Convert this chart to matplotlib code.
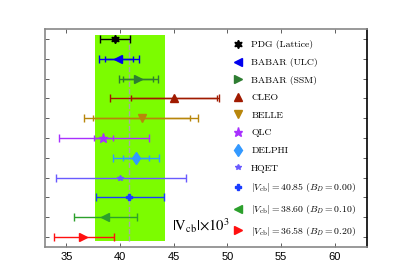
import matplotlib
matplotlib.use("Agg")
import matplotlib.pyplot as plt

labels = ["PDG (Lattice)", "BABAR (ULC)", "BABAR (SSM)", "CLEO", "BELLE", "QLC",
          "DELPHI", "HQET",
          r"$|V_{\rm cb}| = 40.85\ (B_D = 0.00)$",
          r"$|V_{\rm cb}| = 38.60\ (B_D = 0.10)$",
          r"$|V_{\rm cb}| = 36.58\ (B_D = 0.20)$"]
values = [39.5, 39.8, 41.7, 45.0, 42.0, 38.4, 41.5, 40.0, 40.85, 38.60, 36.58]
outer_lo = [38.1, 38.05, 39.85, 39.1, 36.6, 34.3, 39.3, 34.0, 37.75, 35.7, 33.85]
outer_hi = [40.9, 41.72, 43.5, 49.2, 47.3, 42.7, 43.6, 46.1, 44.05, 41.6, 39.45]
inner_lo = [None, 38.6, 40.3, 41.0, 37.5, 37.6, 40.25, None, None, None, None]
inner_hi = [None, 41.2, 43.1, 49.0, 46.5, 39.3, 42.65, None, None, None, None]
colors = ["black", "#0000ee", "#2e7d32", "#a01a00", "#b8860b", "#a830ff",
          "#3399ff", "#6a5aff", "#1a3cff", "#2ca02c", "#ff1010"]
markers = [(6, 1, 0), "<", ">", "^", "v", "*", "d", "*", "P", "<", ">"]
msizes = [6, 6, 6, 6, 6, 6.5, 6.5, 4, 5, 6, 6]
band = (37.7, 44.2)
central = 40.85
xticks = [35, 40, 45, 50, 55, 60]

plt.rcParams["mathtext.fontset"] = "cm"
plt.rcParams["axes.unicode_minus"] = False

fig = plt.figure(figsize=(4.15, 2.68), dpi=100)
ax = fig.add_axes([45/415, 1-247/268, (367-45)/415, (247-29)/268])

n = len(values)
ys = [n - i for i in range(n)]

ax.fill_between(band, [0.8, 0.8], [n + 0.2, n + 0.2], color="#7cfc00", lw=0, zorder=1)
ax.plot([central, central], [0.8, n + 0.2], ls="--", color="#a8a8a8", lw=1.0, zorder=2)

handles = []
for i in range(n):
    y = ys[i]
    c = colors[i]
    ax.errorbar([values[i]], [y],
                xerr=[[values[i] - outer_lo[i]], [outer_hi[i] - values[i]]],
                fmt="none", ecolor=c, elinewidth=1.0, capsize=3, capthick=1.0, zorder=3)
    if inner_lo[i] is not None:
        ax.errorbar([values[i]], [y],
                    xerr=[[values[i] - inner_lo[i]], [inner_hi[i] - values[i]]],
                    fmt="none", ecolor=c, elinewidth=1.0, capsize=2, capthick=1.0, zorder=3)
    h, = ax.plot([values[i]], [y], ls="none", marker=markers[i], color=c,
                 ms=msizes[i], label=labels[i], zorder=4)
    handles.append(h)

ax.set_xlim(33, 63)
ax.set_ylim(0.5, n + 0.5)
ax.set_xticks(xticks)
ax.set_yticks(ys)
ax.set_yticklabels([])
ax.tick_params(direction="in", top=True, right=True, length=3, width=0.6,
               labelsize=8, colors="#444444", labelcolor="black")
for lab in ax.get_xticklabels():
    lab.set_family("Liberation Sans")
for s in ["left", "bottom", "top"]:
    ax.spines[s].set_color("#888888")
    ax.spines[s].set_linewidth(1.2)
ax.spines["right"].set_color("black")
ax.spines["right"].set_linewidth(1.2)

ax.text(44.8, 1.3, r"$|\mathrm{V}_{\mathrm{cb}}|{\times}10^3$", fontsize=10.5,
        math_fontfamily="stix", ha="left", va="baseline")

leg = ax.legend(handles=handles, loc="upper left", bbox_to_anchor=(0.565, 0.975),
                frameon=False, prop={"family": "cmr10", "size": 7},
                handlelength=1.0, handletextpad=0.9, labelspacing=0.9,
                borderaxespad=0.2, numpoints=1)

fig.savefig("out.png", dpi=100)
